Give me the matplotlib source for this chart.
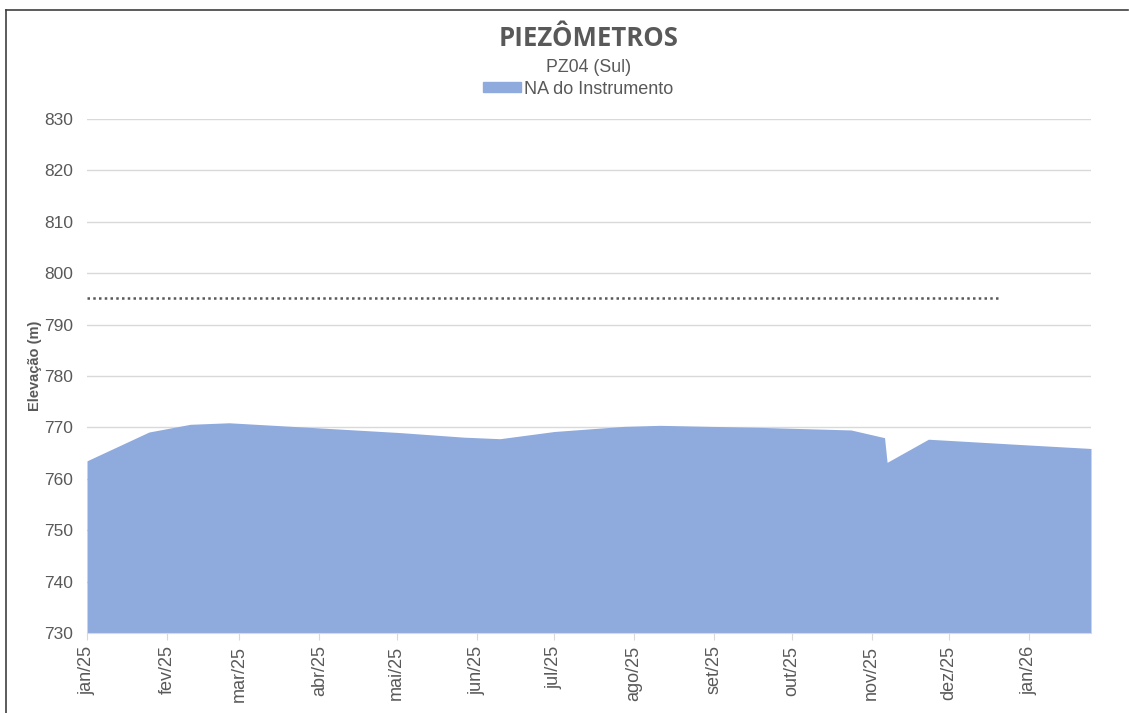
import matplotlib
matplotlib.use("Agg")
import matplotlib.pyplot as plt
from matplotlib.patches import Patch
from matplotlib.lines import Line2D
import numpy as np

# water level readings (NA do Instrumento)
dates = np.array(["2025-01-01", "2025-01-25", "2025-02-10", "2025-02-25", "2025-04-01",
                  "2025-05-02", "2025-05-27", "2025-06-10", "2025-07-01", "2025-07-28",
                  "2025-08-11", "2025-09-19", "2025-10-24", "2025-11-06", "2025-11-07",
                  "2025-11-23", "2025-12-31", "2026-01-25"], dtype="datetime64[D]")
levels = [763.5, 769.1, 770.6, 770.9, 769.9,
          769.0, 768.1, 767.8, 769.2, 770.2,
          770.4, 770.0, 769.5, 768.0, 763.2,
          767.7, 766.6, 765.9]

# dotted reference level
ref_dates = np.array(["2025-01-01", "2025-12-21"], dtype="datetime64[D]")
ref_levels = [795.2, 795.2]

tick_dates = np.array(["2025-01-01", "2025-02-01", "2025-03-01", "2025-04-01", "2025-05-01",
                       "2025-06-01", "2025-07-01", "2025-08-01", "2025-09-01", "2025-10-01",
                       "2025-11-01", "2025-12-01", "2026-01-01"], dtype="datetime64[D]")
tick_labels = ["jan/25", "fev/25", "mar/25", "abr/25", "mai/25", "jun/25", "jul/25",
               "ago/25", "set/25", "out/25", "nov/25", "dez/25", "jan/26"]

grey = "#595959"
plt.rcParams["font.family"] = ["Liberation Sans", "DejaVu Sans"]

fig = plt.figure(figsize=(11.29, 7.13), dpi=100)
ax = fig.add_axes([87 / 1129, 1 - 633 / 713, 1004 / 1129, 514 / 713])

ax.fill_between(dates, levels, 730, color="#8FAADC", lw=0, zorder=2)
ax.plot(ref_dates, ref_levels, color=grey, lw=1.8, ls=(0, (1, 1.3)), zorder=3)

ax.set_ylim(730, 830)
ax.set_yticks(np.arange(730, 831, 10))
ax.set_xlim(np.datetime64("2025-01-01"), np.datetime64("2026-01-25"))
ax.set_xticks(tick_dates)
ax.set_xticklabels(tick_labels, rotation=90)
ax.grid(axis="y", color="#d9d9d9", lw=1, zorder=0)
for s in ["top", "right", "left"]:
    ax.spines[s].set_visible(False)
ax.spines["bottom"].set_color("#d9d9d9")
ax.tick_params(axis="y", length=0, pad=10, labelsize=12.5, labelcolor=grey)
ax.tick_params(axis="x", length=5, color="#d9d9d9", pad=4, labelsize=13, labelcolor=grey)
ax.set_ylabel("Elevação (m)", fontsize=10.5, fontweight="bold", color=grey)
ax.yaxis.set_label_coords(-0.045, 0.52)

fig.text(589 / 1129, 1 - 39 / 713, "PIEZÔMETROS", ha="center", va="center",
         fontsize=18.5, fontweight="bold", color=grey, family="Open Sans")
fig.text(589 / 1129, 1 - 68 / 713, "PZ04 (Sul)", ha="center", va="center",
         fontsize=12.8, color=grey)
fig.legend(handles=[Patch(color="#8FAADC", label="NA do Instrumento")],
           loc="center", bbox_to_anchor=(578 / 1129, 1 - 89 / 713), frameon=False,
           fontsize=13, handlelength=2.1, handleheight=0.5, handletextpad=0.15,
           labelcolor=grey, borderpad=0)

# chart border (left and top edges visible)
fig.add_artist(Line2D([6 / 1129, 6 / 1129], [0, 1 - 9.5 / 713], color="#404040", lw=1.2))
fig.add_artist(Line2D([6 / 1129, 1128 / 1129], [1 - 9.5 / 713, 1 - 9.5 / 713],
                      color="#404040", lw=1.2))

fig.savefig("out.png", dpi=100)
